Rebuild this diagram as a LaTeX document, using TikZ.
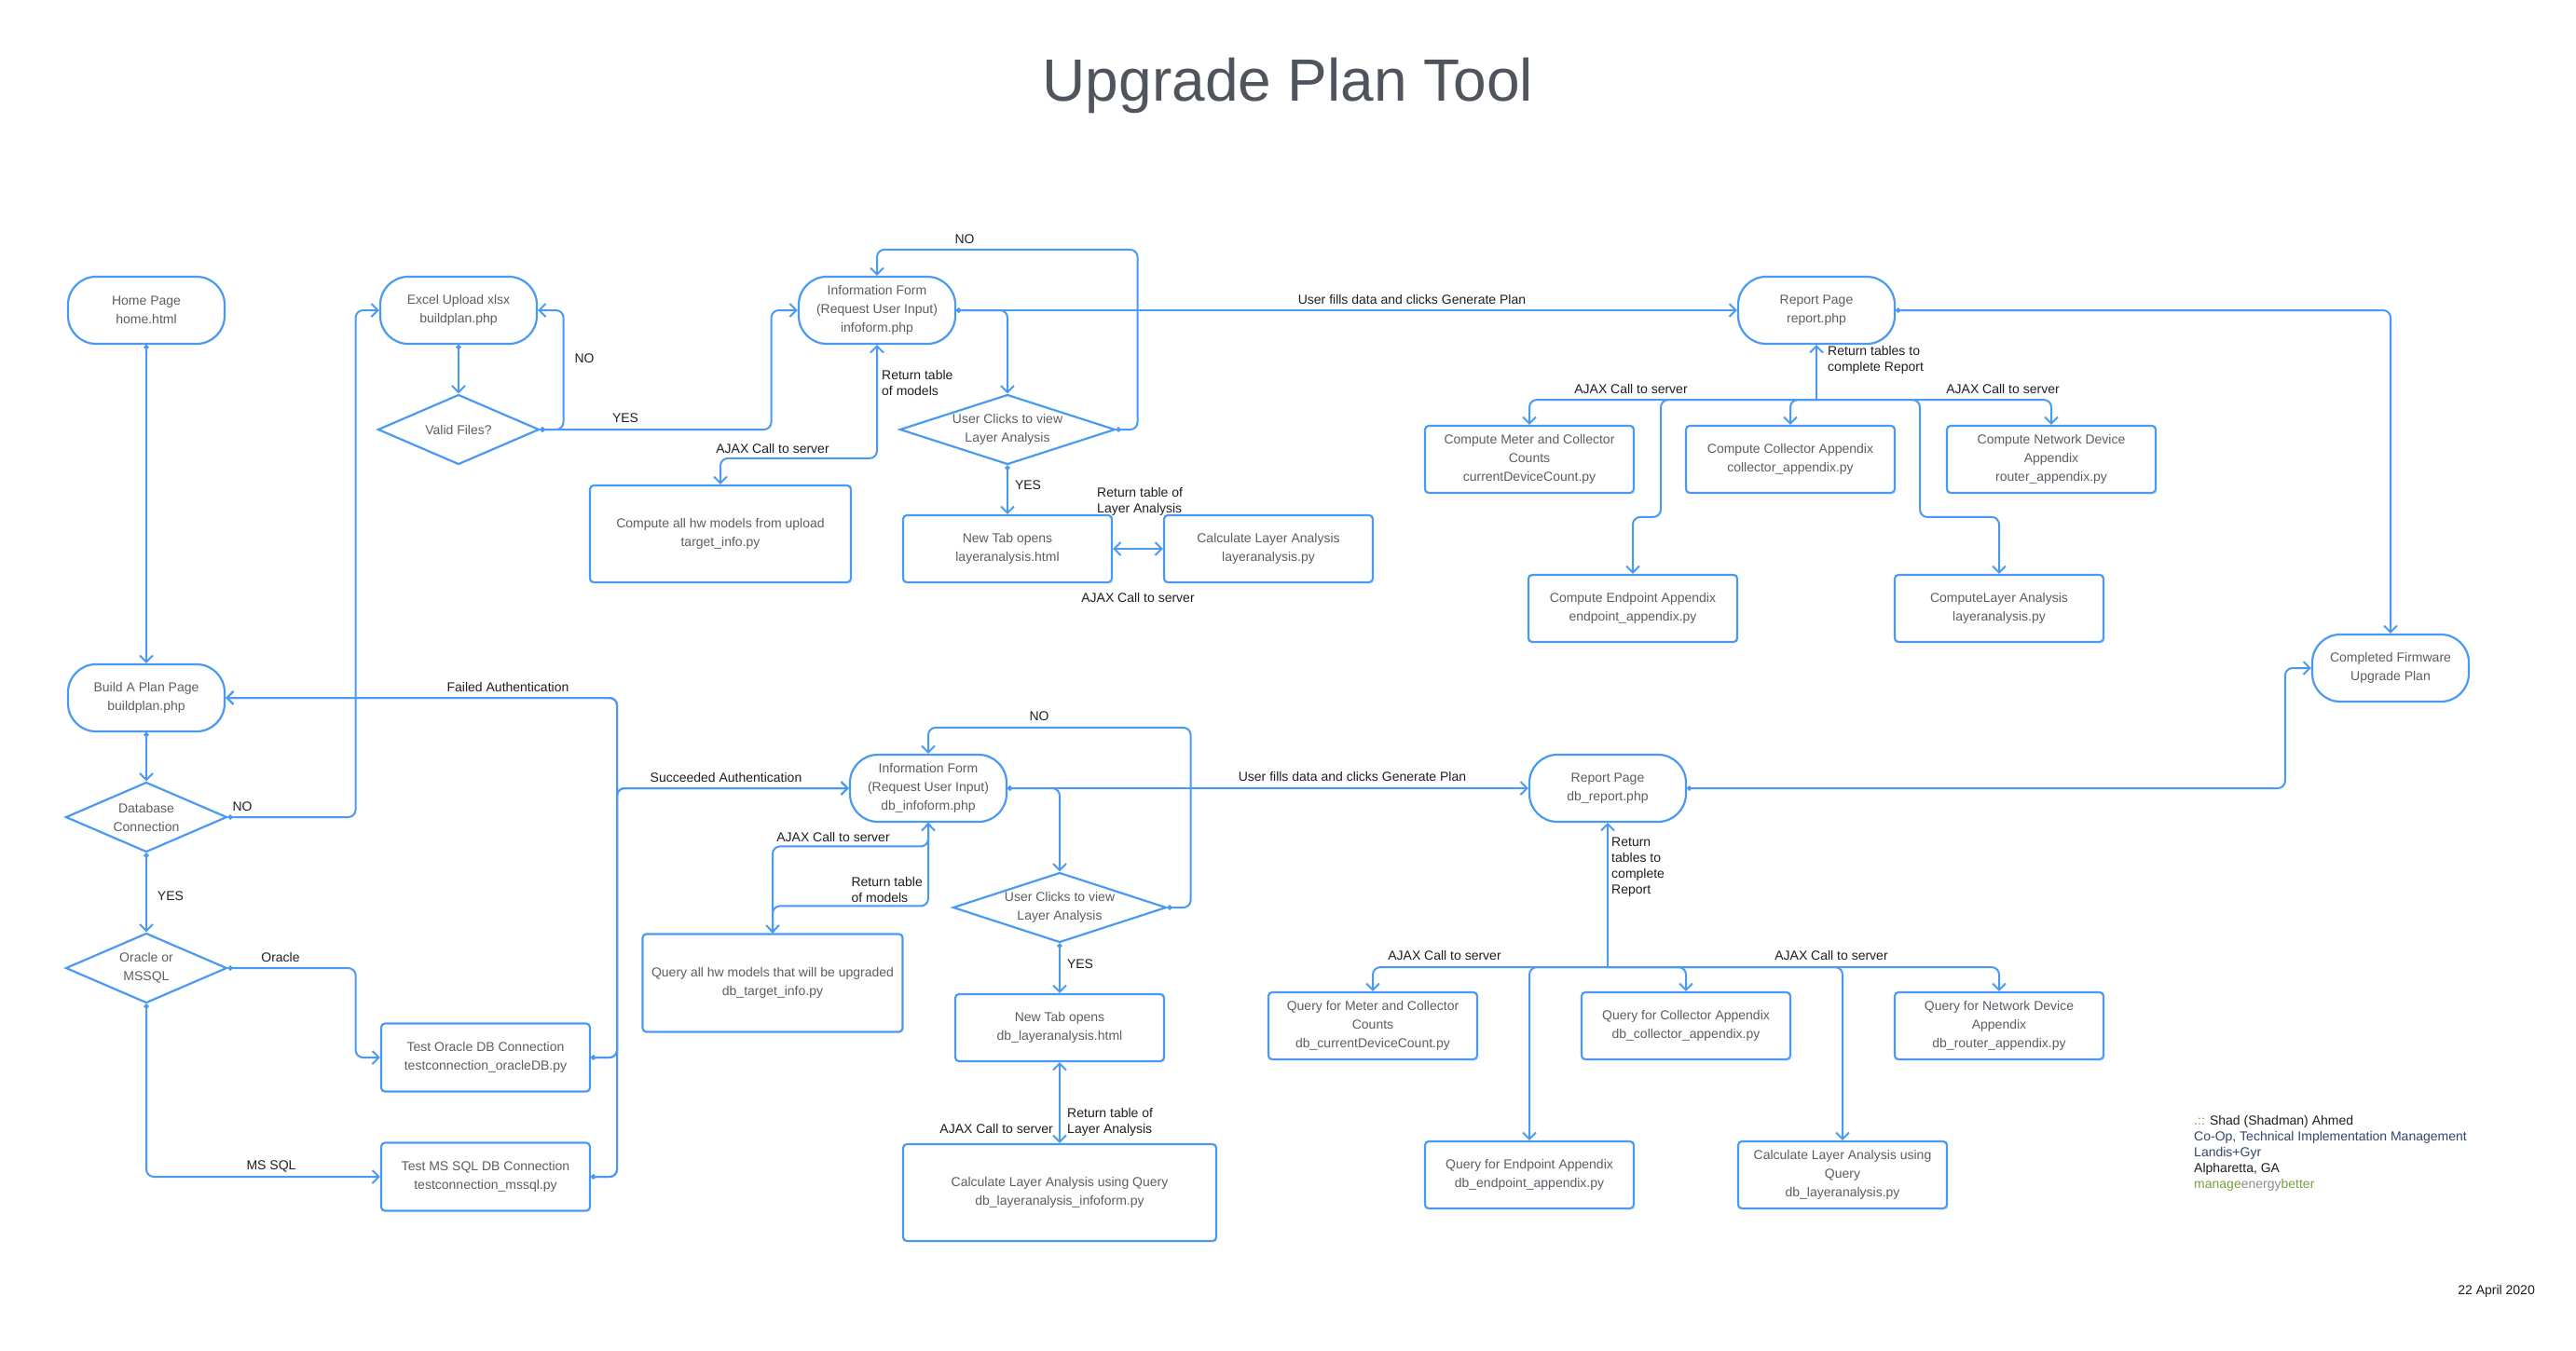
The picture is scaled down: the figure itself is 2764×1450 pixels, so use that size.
\documentclass[tikz,border=0pt]{standalone}
\usepackage{fontspec}
\setmainfont{Liberation Sans}
\usepackage{xcolor}
\usepackage{tikz}
\usetikzlibrary{positioning,calc,arrows.meta,shapes.geometric}
\definecolor{LineBlue}{HTML}{4A9AF2}
\definecolor{NodeGrey}{HTML}{595D64}
\definecolor{TitleGrey}{HTML}{4F545D}
\definecolor{LabelBlack}{HTML}{1E1E1E}
\definecolor{SigGreen}{HTML}{7A9E3C}
\definecolor{SigBlue}{HTML}{34456A}
\definecolor{SigGrey}{HTML}{8C8C8C}
\newcommand{\flowfont}{\fontsize{14}{20}\selectfont}
\newcommand{\labelfont}{\fontsize{14}{17}\selectfont}

\begin{document}
\begin{tikzpicture}[
      x=1pt, y=-1pt,
      >={Straight Barb[length=7pt,width=14pt]},
      term/.style = {rectangle, draw=LineBlue, line width=2.2pt, rounded corners=30pt,
        minimum width=168pt, minimum height=72pt, inner sep=0pt,
        align=center, text=NodeGrey, font=\flowfont},
      proc/.style = {rectangle, draw=LineBlue, line width=2.2pt, rounded corners=4pt,
        minimum width=224pt, minimum height=72pt, inner sep=0pt,
        align=center, text=NodeGrey, font=\flowfont},
      dec/.style = {diamond, draw=LineBlue, line width=2.2pt, shape aspect=2.3,
        minimum width=173pt, minimum height=75pt, inner sep=0pt,
        align=center, text=NodeGrey, font=\flowfont},
      lbl/.style = {inner sep=0pt, text=LabelBlack, font=\labelfont},
      arrow/.style = {draw=LineBlue, line width=2pt, rounded corners=8pt,
        {Circle[length=5pt]}->},
      twoway/.style = {draw=LineBlue, line width=2pt, rounded corners=8pt, <->},
      branch/.style = {draw=LineBlue, line width=2pt, rounded corners=8pt, ->}
    ]
    \useasboundingbox (0,0) rectangle (2764,1450);
    \node (title) [anchor=base, text=TitleGrey, font=\fontsize{64}{70}\selectfont]
      at (1382,109) {Upgrade Plan Tool};

    \node (home) [term] at (157,333) {Home Page\\home.html};
    \node (excel) [term] at (492,333) {Excel Upload xlsx\\buildplan.php};
    \node (valid) [dec] at (492,461) {Valid Files?};
    \node (info) [term] at (941,333) {Information Form\\(Request User Input)\\infoform.php};
    \node (hwmodels) [proc, minimum width=280pt, minimum height=104pt] at (773,573)
      {Compute all hw models from upload\\target\_info.py};
    \node (view) [dec, shape aspect=3.1, minimum width=231pt] at (1081,461)
      {User Clicks to view\\Layer Analysis};
    \node (newtab) [proc] at (1081,589) {New Tab opens\\layeranalysis.html};
    \node (calc) [proc] at (1361,589) {Calculate Layer Analysis\\layeranalysis.py};
    \node (report) [term] at (1949,333) {Report Page\\report.php};
    \node (meter) [proc] at (1641,493) {Compute Meter and Collector\\Counts\\currentDeviceCount.py};
    \node (coll) [proc] at (1921,493) {Compute Collector Appendix\\collector\_appendix.py};
    \node (router) [proc] at (2201,493) {Compute Network Device\\Appendix\\router\_appendix.py};
    \node (endpt) [proc] at (1752,653) {Compute Endpoint Appendix\\endpoint\_appendix.py};
    \node (layer) [proc] at (2145,653) {ComputeLayer Analysis\\layeranalysis.py};
    \node (done) [term] at (2565,717) {Completed Firmware\\Upgrade Plan};

    \node (build) [term] at (157,749) {Build A Plan Page\\buildplan.php};
    \node (dbconn) [dec] at (157,877) {Database\\Connection};
    \node (oramss) [dec] at (157,1039) {Oracle or\\MSSQL};
    \node (oracle) [proc, minimum height=73pt] at (521,1135)
      {Test Oracle DB Connection\\testconnection\_oracleDB.py};
    \node (mssql) [proc, minimum height=73pt] at (521,1263)
      {Test MS SQL DB Connection\\testconnection\_mssql.py};
    \node (dbinfo) [term] at (996,846) {Information Form\\(Request User Input)\\db\_infoform.php};
    \node (dbhw) [proc, minimum width=279pt, minimum height=105pt] at (829,1055)
      {Query all hw models that will be upgraded\\db\_target\_info.py};
    \node (dbview) [dec, shape aspect=3.1, minimum width=229pt] at (1137,974)
      {User Clicks to view\\Layer Analysis};
    \node (dbnewtab) [proc] at (1137,1103) {New Tab opens\\db\_layeranalysis.html};
    \node (dbcalc) [proc, minimum width=336pt, minimum height=104pt] at (1137,1280)
      {Calculate Layer Analysis using Query\\db\_layeranalysis\_infoform.py};
    \node (dbreport) [term] at (1725,846) {Report Page\\db\_report.php};
    \node (dbmeter) [proc] at (1473,1101) {Query for Meter and Collector\\Counts\\db\_currentDeviceCount.py};
    \node (dbcoll) [proc] at (1809,1101) {Query for Collector Appendix\\db\_collector\_appendix.py};
    \node (dbrouter) [proc] at (2145,1101) {Query for Network Device\\Appendix\\db\_router\_appendix.py};
    \node (dbendpt) [proc] at (1641,1261) {Query for Endpoint Appendix\\db\_endpoint\_appendix.py};
    \node (dblayer) [proc] at (1977,1261) {Calculate Layer Analysis using\\Query\\db\_layeranalysis.py};

    \coordinate (rbus) at ($(report.south)+(0,59)$);
    \coordinate (dbus) at ($(dbreport.south)+(0,155)$);

    \draw [arrow] (home) -- (build);
    \draw [arrow] (excel) -- (valid);
    \draw [arrow] (valid.east) -- ++(25,0) |- (excel.east);
    \draw [arrow] (valid.east) -- ++(248,0) |- (info.west);
    \draw [twoway] (info.south) |- ($(hwmodels.north)+(0,-28)$) -- (hwmodels.north);
    \draw [arrow] (info.east) -| (view.north);
    \draw [arrow] (info.east) -- (report.west);
    \draw [arrow] (view.east) -- ++(23,0) |- ($(info.north)+(0,-28)$) -- (info.north);
    \draw [arrow] (view) -- (newtab);
    \draw [twoway] (newtab) -- (calc);
    \draw [arrow] (report.east) -| (done.north);
    \draw [branch] (rbus) -- (report.south);
    \draw [branch] (rbus) -| (meter.north);
    \draw [branch] (rbus) -| (coll.north);
    \draw [branch] (rbus) -| (router.north);
    \draw [branch] (rbus) -| ($(endpt.north)+(30,-61)$) -| (endpt.north);
    \draw [branch] (rbus) -| ($(layer.north)+(-85,-61)$) -| (layer.north);

    \draw [arrow] (build) -- (dbconn);
    \draw [arrow] (dbconn.east) -- ++(137,0) |- (excel.west);
    \draw [arrow] (dbconn) -- (oramss);
    \draw [arrow] (oramss.east) -- ++(137,0) |- (oracle.west);
    \draw [arrow] (oramss.south) |- (mssql.west);
    \draw [arrow] (oracle.east) -- ++(28,0) |- (build.east);
    \draw [arrow] (mssql.east) -- ++(28,0) |- (build.east);
    \draw [arrow] (oracle.east) -- ++(28,0) |- (dbinfo.west);
    \draw [arrow] (mssql.east) -- ++(28,0) |- (dbinfo.west);
    \draw [arrow] (dbinfo.south) |- ($(dbhw.north)+(0,-93)$) -- (dbhw.north);
    \draw [arrow] (dbhw.north) -- ++(0,-29) -| (dbinfo.south);
    \draw [arrow] (dbinfo.east) -| (dbview.north);
    \draw [arrow] (dbinfo.east) -- (dbreport.west);
    \draw [arrow] (dbview.east) -- ++(25,0) |- ($(dbinfo.north)+(0,-28)$) -- (dbinfo.north);
    \draw [arrow] (dbview) -- (dbnewtab);
    \draw [twoway] (dbnewtab) -- (dbcalc);
    \draw [arrow] (dbreport.east) -| ($(done.west)+(-28,0)$) -- (done.west);
    \draw [branch] (dbus) -- (dbreport.south);
    \draw [branch] (dbus) -| (dbmeter.north);
    \draw [branch] (dbus) -| (dbcoll.north);
    \draw [branch] (dbus) -| (dbrouter.north);
    \draw [branch] (dbus) -| (dbendpt.north);
    \draw [branch] (dbus) -| (dblayer.north);

    \node (noA) [lbl] at (627,385) {NO};
    \node (yesA) [lbl] at (671,449) {YES};
    \node (ajaxA) [lbl] at (829,481) {AJAX Call to server};
    \node (retA) [lbl, anchor=west, align=left] at (946,411) {Return table\\of models};
    \node (noB) [lbl] at (1035,257) {NO};
    \node (fillA) [lbl] at (1515,321) {User fills data and clicks Generate Plan};
    \node (yesB) [lbl] at (1103,521) {YES};
    \node (retB) [lbl, anchor=west, align=left] at (1177,538) {Return table of\\Layer Analysis};
    \node (ajaxB) [lbl] at (1221,641) {AJAX Call to server};
    \node (retC) [lbl, anchor=west, align=left] at (1961,386) {Return tables to\\complete Report};
    \node (ajaxC) [lbl] at (1750,417) {AJAX Call to server};
    \node (ajaxD) [lbl] at (2149,417) {AJAX Call to server};

    \node (failed) [lbl] at (545,737) {Failed Authentication};
    \node (noC) [lbl] at (260,866) {NO};
    \node (yesC) [lbl] at (183,962) {YES};
    \node (ora) [lbl] at (301,1027) {Oracle};
    \node (mss) [lbl] at (291,1252) {MS SQL};
    \node (success) [lbl] at (779,834) {Succeeded Authentication};
    \node (ajaxE) [lbl] at (894,898) {AJAX Call to server};
    \node (retD) [lbl, anchor=east, align=left] at (990,955) {Return table\\of models};
    \node (noD) [lbl] at (1115,769) {NO};
    \node (fillB) [lbl] at (1451,833) {User fills data and clicks Generate Plan};
    \node (yesD) [lbl] at (1159,1035) {YES};
    \node (ajaxF) [lbl, anchor=east] at (1130,1211) {AJAX Call to server};
    \node (retE) [lbl, anchor=west, align=left] at (1145,1204) {Return table of\\Layer Analysis};
    \node (retF) [lbl, anchor=west, align=left] at (1729,931) {Return\\tables to\\complete\\Report};
    \node (ajaxG) [lbl] at (1550,1025) {AJAX Call to server};
    \node (ajaxH) [lbl] at (1965,1025) {AJAX Call to server};

    \node (sig) [lbl, anchor=north west, align=left] at (2354,1197)
      {\textcolor{SigGreen}{.::} Shad (Shadman) Ahmed\\
       \textcolor{SigBlue}{Co-Op, Technical Implementation Management}\\
       \textcolor{SigBlue}{Landis+Gyr}\\
       Alpharetta, GA\\
       \textcolor{SigGreen}{manage}\textcolor{SigGrey}{energy}\textcolor{SigGreen}{better}};
    \node (date) [lbl, anchor=east] at (2720,1386) {22 April 2020};
  \end{tikzpicture}
\end{document}
